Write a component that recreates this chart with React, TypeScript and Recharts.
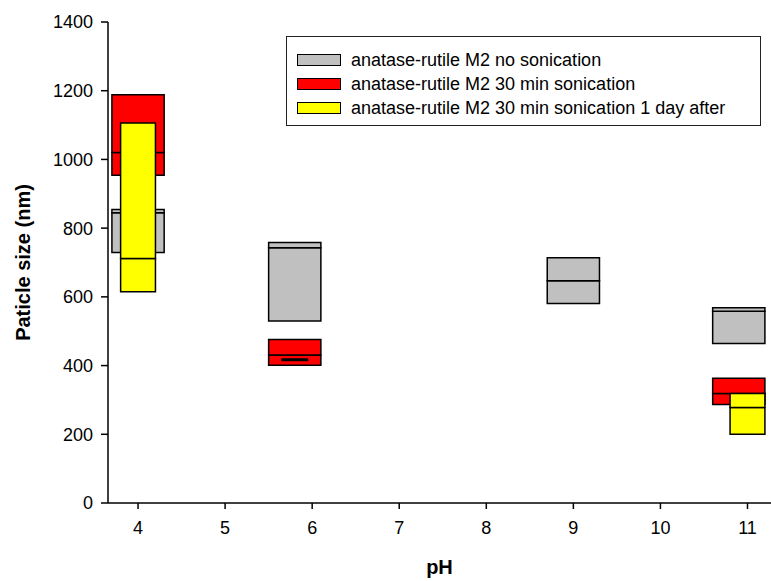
import { ComposedChart, Label, ReferenceArea, ReferenceLine, Scatter, XAxis, YAxis } from "recharts";

// pH axis and particle size axis ticks
const phTicks = [4, 5, 6, 7, 8, 9, 10, 11];
const sizeTicks = [0, 200, 400, 600, 800, 1000, 1200, 1400];

// anatase-rutile M2, no sonication
const noSonicPh = [4, 5.8, 9, 10.9];
const noSonicLow = [729, 530, 581, 464];
const noSonicMedian = [845, 743, 647, 558];
const noSonicHigh = [854, 758, 714, 568];

// anatase-rutile M2, 30 min sonication
const sonicPh = [4, 5.8, 10.9];
const sonicLow = [954, 401, 287];
const sonicMedian = [1020, 431, 319];
const sonicHigh = [1188, 476, 363];
const sonicMarkPh = [5.8];
const sonicMark = [417];

// anatase-rutile M2, 30 min sonication, 1 day after
const dayAfterPh = [4, 11];
const dayAfterLow = [615, 200];
const dayAfterMedian = [712, 278];
const dayAfterHigh = [1106, 319];

type Box = { ph: number; low: number; median: number; high: number };

const toBoxes = (ph: number[], low: number[], median: number[], high: number[]): Box[] =>
  ph.map((p, i) => ({ ph: p, low: low[i], median: median[i], high: high[i] }));

const series = [
  { name: "anatase-rutile M2 no sonication", fill: "#c0c0c0", half: 0.3, boxes: toBoxes(noSonicPh, noSonicLow, noSonicMedian, noSonicHigh) },
  { name: "anatase-rutile M2 30 min sonication", fill: "#ff0000", half: 0.3, boxes: toBoxes(sonicPh, sonicLow, sonicMedian, sonicHigh) },
  { name: "anatase-rutile M2 30 min sonication 1 day after", fill: "#ffff00", half: 0.2, boxes: toBoxes(dayAfterPh, dayAfterLow, dayAfterMedian, dayAfterHigh) },
];

const markData = sonicMarkPh.map((p, i) => ({ ph: p, size: sonicMark[i] }));
const allMedians = series.flatMap((s) => s.boxes.map((b) => ({ ph: b.ph, size: b.median })));

const font = "'Liberation Sans', Arial, sans-serif";

function YTitle({ viewBox }: any) {
  const x = viewBox.x + 23;
  const y = viewBox.y + viewBox.height / 2;
  return (
    <text x={x} y={y} transform={`rotate(-90 ${x} ${y})`} textAnchor="middle" dominantBaseline="central"
      fontSize={20} fontWeight="bold" fill="#000" fontFamily={font}>
      Paticle size (nm)
    </text>
  );
}

export default function App() {
  return (
    <div style={{ position: "fixed", left: 0, top: 0, width: 771, height: 581, background: "#fff", fontFamily: font }}>
      <ComposedChart width={771} height={581} margin={{ top: 22, right: 0, bottom: 0, left: 0 }}>
        <XAxis type="number" dataKey="ph" domain={[3.655, 11.27]} ticks={phTicks} allowDataOverflow
          height={78} tickSize={6} tickMargin={12} stroke="#000" strokeWidth={1.5}
          tick={{ fill: "#000", fontSize: 18, fontFamily: font }}>
          <Label value="pH" position="insideBottom" offset={7} fill="#000" fontSize={20} fontWeight="bold" fontFamily={font} />
        </XAxis>
        <YAxis type="number" dataKey="size" domain={[0, 1400]} ticks={sizeTicks} allowDataOverflow
          width={108} tickSize={7} tickMargin={8} stroke="#000" strokeWidth={1.5}
          tick={{ fill: "#000", fontSize: 18, fontFamily: font }}>
          <Label content={YTitle} />
        </YAxis>
        {/* each box is two stacked areas (low-median, median-high) so the median edge keeps draw order */}
        {series.map((s) =>
          s.boxes.map((b) => [
            <ReferenceArea key={`${s.name}-lo-${b.ph}`} x1={b.ph - s.half} x2={b.ph + s.half} y1={b.low} y2={b.median}
              fill={s.fill} fillOpacity={1} stroke="#000" strokeWidth={1.5} ifOverflow="visible" />,
            <ReferenceArea key={`${s.name}-hi-${b.ph}`} x1={b.ph - s.half} x2={b.ph + s.half} y1={b.median} y2={b.high}
              fill={s.fill} fillOpacity={1} stroke="#000" strokeWidth={1.5} ifOverflow="visible" />,
          ])
        )}
        {markData.map((m) => (
          <ReferenceLine key={`mark-${m.ph}`} segment={[{ x: m.ph - 0.155, y: m.size }, { x: m.ph + 0.155, y: m.size }]}
            stroke="#000" strokeWidth={3} ifOverflow="visible" />
        ))}
        <Scatter data={allMedians} dataKey="size" fill="none" shape={() => null} isAnimationActive={false} />
      </ComposedChart>
      <div style={{ position: "absolute", left: 286, top: 36, width: 473, height: 88, border: "1.5px solid #222", background: "#fff" }}>
        {series.map((s, i) => (
          <div key={s.name} style={{ position: "absolute", left: 10, top: 12 + i * 24, height: 22, display: "flex", alignItems: "center", whiteSpace: "nowrap" }}>
            <span style={{ display: "inline-block", width: 42, height: 10, background: s.fill, border: "1.5px solid #000", marginRight: 10 }} />
            <span style={{ fontSize: 18, color: "#000" }}>{s.name}</span>
          </div>
        ))}
      </div>
    </div>
  );
}
